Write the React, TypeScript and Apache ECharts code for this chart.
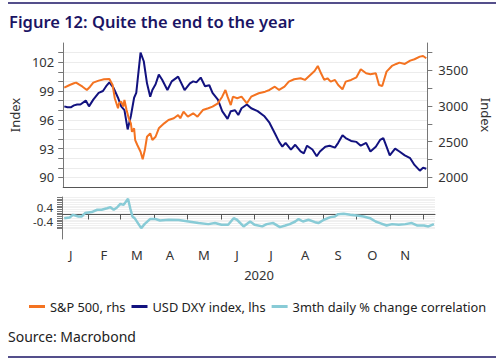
import React, { useEffect, useRef } from "react";
import * as echarts from "echarts";

// ---- data (x = day of year 2020) ----
const dxyDays = [8, 11, 14, 17, 20, 23, 28, 31, 35, 40, 44, 47, 50, 54, 58, 61, 64, 67, 70, 73, 75, 79, 82, 85, 88, 90, 93, 96, 99, 104, 108, 114, 120, 125, 128, 131, 135, 139, 143, 146, 151, 155, 160, 163, 167, 170, 173, 178, 182, 188, 194, 199, 204, 208, 211, 214, 219, 223, 228, 231, 234, 239, 243, 246, 251, 255, 260, 263, 267, 270, 275, 280, 284, 289, 293, 298, 302, 305, 308, 311, 316, 320, 325, 330, 334, 339, 342, 345];
const dxyValues = [97.4, 97.3, 97.3, 97.5, 97.6, 97.6, 98.0, 97.4, 98.1, 98.8, 99.0, 99.5, 99.9, 99.3, 98.3, 97.4, 97.0, 95.0, 96.4, 98.3, 98.8, 103.0, 102.1, 99.8, 98.4, 99.1, 99.7, 100.7, 100.2, 99.1, 100.0, 100.5, 99.1, 99.8, 100.0, 99.9, 100.4, 99.5, 99.6, 98.8, 98.1, 96.9, 96.1, 96.9, 97.0, 96.5, 97.2, 97.6, 97.2, 96.9, 96.4, 95.7, 94.6, 93.7, 93.2, 93.6, 92.9, 93.4, 92.7, 92.5, 93.3, 92.9, 92.2, 92.7, 93.2, 93.3, 93.1, 93.6, 94.4, 94.1, 93.8, 93.7, 93.3, 93.6, 92.7, 93.2, 93.9, 94.1, 93.2, 92.3, 93.0, 92.7, 92.3, 92.0, 91.3, 90.7, 91.0, 90.9];

const spxDays = [8, 13, 17, 19, 22, 25, 29, 32, 35, 40, 45, 50, 53, 55, 58, 59, 61, 63, 64, 66, 68, 70, 71, 73, 74, 76, 79, 81, 83, 85, 88, 90, 93, 96, 101, 105, 110, 114, 116, 119, 123, 128, 132, 137, 142, 146, 151, 155, 158, 160, 163, 165, 169, 173, 178, 182, 189, 195, 199, 204, 208, 213, 217, 222, 228, 232, 237, 241, 244, 247, 250, 253, 256, 260, 263, 267, 270, 275, 280, 284, 289, 293, 298, 301, 304, 308, 313, 317, 320, 325, 330, 334, 339, 342, 345];
const spxValues = [3258, 3296, 3320, 3329, 3300, 3272, 3226, 3272, 3329, 3357, 3376, 3380, 3296, 3110, 2969, 3039, 3062, 2992, 3086, 2945, 2829, 2758, 2640, 2688, 2524, 2454, 2360, 2253, 2383, 2570, 2618, 2524, 2570, 2688, 2758, 2805, 2829, 2875, 2829, 2921, 2851, 2899, 2851, 2945, 2969, 2992, 3039, 3132, 3226, 3132, 3015, 3132, 3110, 3132, 3039, 3132, 3180, 3202, 3226, 3272, 3226, 3272, 3343, 3376, 3390, 3367, 3437, 3493, 3563, 3460, 3367, 3390, 3343, 3367, 3296, 3236, 3343, 3367, 3404, 3517, 3460, 3446, 3460, 3296, 3282, 3483, 3563, 3591, 3610, 3591, 3638, 3657, 3694, 3703, 3671];

const corrDays = [9, 14, 17, 22, 25, 28, 34, 39, 43, 48, 51, 54, 57, 60, 63, 67, 69, 71, 73, 76, 79, 82, 87, 92, 96, 104, 113, 122, 131, 140, 146, 152, 158, 163, 166, 170, 172, 178, 182, 189, 193, 199, 205, 210, 214, 219, 222, 226, 231, 237, 240, 245, 251, 255, 258, 263, 269, 275, 281, 287, 292, 296, 302, 307, 313, 319, 325, 330, 336, 340, 345];
const corrValues = [-0.21, -0.17, -0.02, -0.11, -0.11, 0.08, 0.14, 0.27, 0.27, 0.36, 0.42, 0.27, 0.40, 0.61, 0.55, 0.90, 0.36, -0.11, -0.21, -0.49, -0.78, -0.55, -0.26, -0.26, -0.34, -0.30, -0.32, -0.40, -0.49, -0.55, -0.49, -0.59, -0.59, -0.21, -0.30, -0.55, -0.68, -0.40, -0.59, -0.68, -0.55, -0.49, -0.72, -0.63, -0.55, -0.40, -0.26, -0.40, -0.30, -0.44, -0.49, -0.30, -0.15, -0.11, 0.02, 0.04, -0.02, -0.06, -0.11, -0.21, -0.40, -0.49, -0.63, -0.55, -0.59, -0.55, -0.49, -0.63, -0.63, -0.68, -0.55];

const monthStartDays = [31, 60, 91, 121, 152, 182, 213, 244, 274, 305, 335];
const monthMidDays = [15, 45, 75, 105, 136, 166, 197, 228, 258, 289, 319];
const monthLabels = ["J", "F", "M", "A", "M", "J", "J", "A", "S", "O", "N"];

const leftTicks = [90, 91, 92, 93, 94, 95, 96, 97, 98, 99, 100, 101, 102, 103];
const leftLabels = [90, 93, 96, 99, 102];
const rightTicks = [2000, 2250, 2500, 2750, 3000, 3250, 3500, 3750];
const rightLabels = [2000, 2500, 3000, 3500];
const corrTicks = [-0.8, -0.7, -0.6, -0.5, -0.4, -0.3, -0.2, -0.1, 0, 0.1, 0.2, 0.3, 0.4, 0.5, 0.6, 0.7, 0.8, 0.9, 1.0];
const corrLabels = [-0.4, 0.4];

const seriesNames = ["S&P 500, rhs", "USD DXY index, lhs", "3mth daily % change correlation"];

const FONT = "'Noto Sans', 'Open Sans', sans-serif";
const NAVY = "#12127f";
const ORANGE = "#f47321";
const LIGHTBLUE = "#88cbd6";
const AXIS = "#777";
const TXT = "#333";

const pairs = (xs: number[], ys: number[]) => xs.map((x, i) => [x, ys[i]]);

export default function App() {
  const ref = useRef<HTMLDivElement>(null);
  useEffect(() => {
    if (!ref.current) return;
    const chart = echarts.init(ref.current, null, { renderer: "svg" });
    const labelStyle = { color: TXT, fontSize: 13, fontFamily: FONT };
    chart.setOption({
      animation: false,
      backgroundColor: "#fff",
      textStyle: { fontFamily: FONT },
      grid: [
        { left: 62, right: 65, top: 43, height: 144 },
        { left: 62, right: 65, top: 197, height: 42 },
      ],
      legend: {
        left: 24,
        top: 295,
        icon: "rect",
        itemWidth: 16,
        itemHeight: 3,
        itemGap: 6,
        data: seriesNames,
        textStyle: { color: "#222", fontSize: 12.8, fontFamily: FONT },
      },
      xAxis: [
        {
          type: "value",
          gridIndex: 0,
          min: 7,
          max: 346,
          axisLine: { show: true, lineStyle: { color: "#555" } },
          axisTick: { show: false },
          axisLabel: { show: false },
          splitLine: { show: false },
        },
        {
          type: "value",
          gridIndex: 1,
          min: 7,
          max: 346,
          axisLine: { show: true, lineStyle: { color: "#555" } },
          axisTick: { show: true, length: 5, customValues: monthStartDays, lineStyle: { color: "#555" } },
          axisLabel: {
            ...labelStyle,
            margin: 9,
            customValues: monthMidDays,
            formatter: (v: number) => {
              const i = monthMidDays.indexOf(v);
              return i >= 0 ? monthLabels[i] : "";
            },
          },
          splitLine: { show: false },
        },
      ],
      yAxis: [
        {
          type: "value",
          gridIndex: 0,
          position: "left",
          min: 89,
          max: 104,
          interval: 1,
          name: "Index",
          nameLocation: "middle",
          nameGap: 37,
          nameTextStyle: { ...labelStyle, fontSize: 13 },
          axisLine: { show: true, lineStyle: { color: AXIS } },
          axisTick: { show: true, length: 5, customValues: leftTicks, lineStyle: { color: AXIS } },
          axisLabel: { ...labelStyle, margin: 9, customValues: leftLabels },
          splitLine: { show: true, lineStyle: { color: "#ececec" } },
        },
        {
          type: "value",
          gridIndex: 0,
          position: "right",
          min: 1865,
          max: 3885,
          name: "Index",
          nameLocation: "middle",
          nameGap: 44,
          nameRotate: -90,
          nameTextStyle: { ...labelStyle, fontSize: 13 },
          axisLine: { show: true, lineStyle: { color: AXIS } },
          axisTick: { show: true, length: 5, customValues: rightTicks, lineStyle: { color: AXIS } },
          axisLabel: { ...labelStyle, margin: 11, customValues: rightLabels, formatter: (v: number) => String(v) },
          splitLine: { show: false },
        },
        {
          type: "value",
          gridIndex: 1,
          min: -1.4,
          max: 1.0,
          axisLine: { show: true, lineStyle: { color: AXIS } },
          axisTick: { show: true, length: 5, customValues: corrTicks, lineStyle: { color: AXIS } },
          axisLabel: {
            ...labelStyle,
            fontSize: 11.5,
            lineHeight: 11,
            margin: 9,
            customValues: corrLabels,
            formatter: (v: number) => v.toFixed(1),
          },
          splitLine: { show: true, lineStyle: { color: "#f0f0f0" } },
        },
      ],
      series: [
        {
          name: seriesNames[1],
          type: "line",
          xAxisIndex: 0,
          yAxisIndex: 0,
          data: pairs(dxyDays, dxyValues),
          showSymbol: false,
          lineStyle: { color: NAVY, width: 2 },
          itemStyle: { color: NAVY },
        },
        {
          name: seriesNames[0],
          type: "line",
          xAxisIndex: 0,
          yAxisIndex: 1,
          data: pairs(spxDays, spxValues),
          showSymbol: false,
          lineStyle: { color: ORANGE, width: 2 },
          itemStyle: { color: ORANGE },
        },
        {
          name: seriesNames[2],
          type: "line",
          xAxisIndex: 1,
          yAxisIndex: 2,
          data: pairs(corrDays, corrValues),
          showSymbol: false,
          lineStyle: { color: LIGHTBLUE, width: 2.5 },
          itemStyle: { color: LIGHTBLUE },
        },
      ],
      graphic: [
        { type: "line", shape: { x1: 8, y1: 3, x2: 496, y2: 3 }, style: { stroke: "#1b1464", lineWidth: 1.5 } },
        { type: "line", shape: { x1: 8, y1: 357, x2: 496, y2: 357 }, style: { stroke: "#1b1464", lineWidth: 1.5 } },
        {
          type: "text",
          x: 9,
          y: 21.5,
          style: {
            text: "Figure 12: Quite the end to the year",
            fill: "#1b1464",
            fontSize: 16.5,
            fontWeight: 600,
            fontFamily: FONT,
            textVerticalAlign: "middle",
          },
        },
        {
          type: "text",
          x: 259,
          y: 275,
          style: { text: "2020", fill: TXT, fontSize: 13, fontFamily: FONT, textAlign: "center", textVerticalAlign: "middle" },
        },
        {
          type: "text",
          x: 8,
          y: 336,
          style: { text: "Source: Macrobond", fill: "#222", fontSize: 14, fontFamily: FONT, textVerticalAlign: "middle" },
        },
      ],
    });
    return () => chart.dispose();
  }, []);
  return (
    <div
      ref={ref}
      style={{ position: "fixed", left: 0, top: 0, width: 500, height: 359, background: "#fff" }}
    />
  );
}
